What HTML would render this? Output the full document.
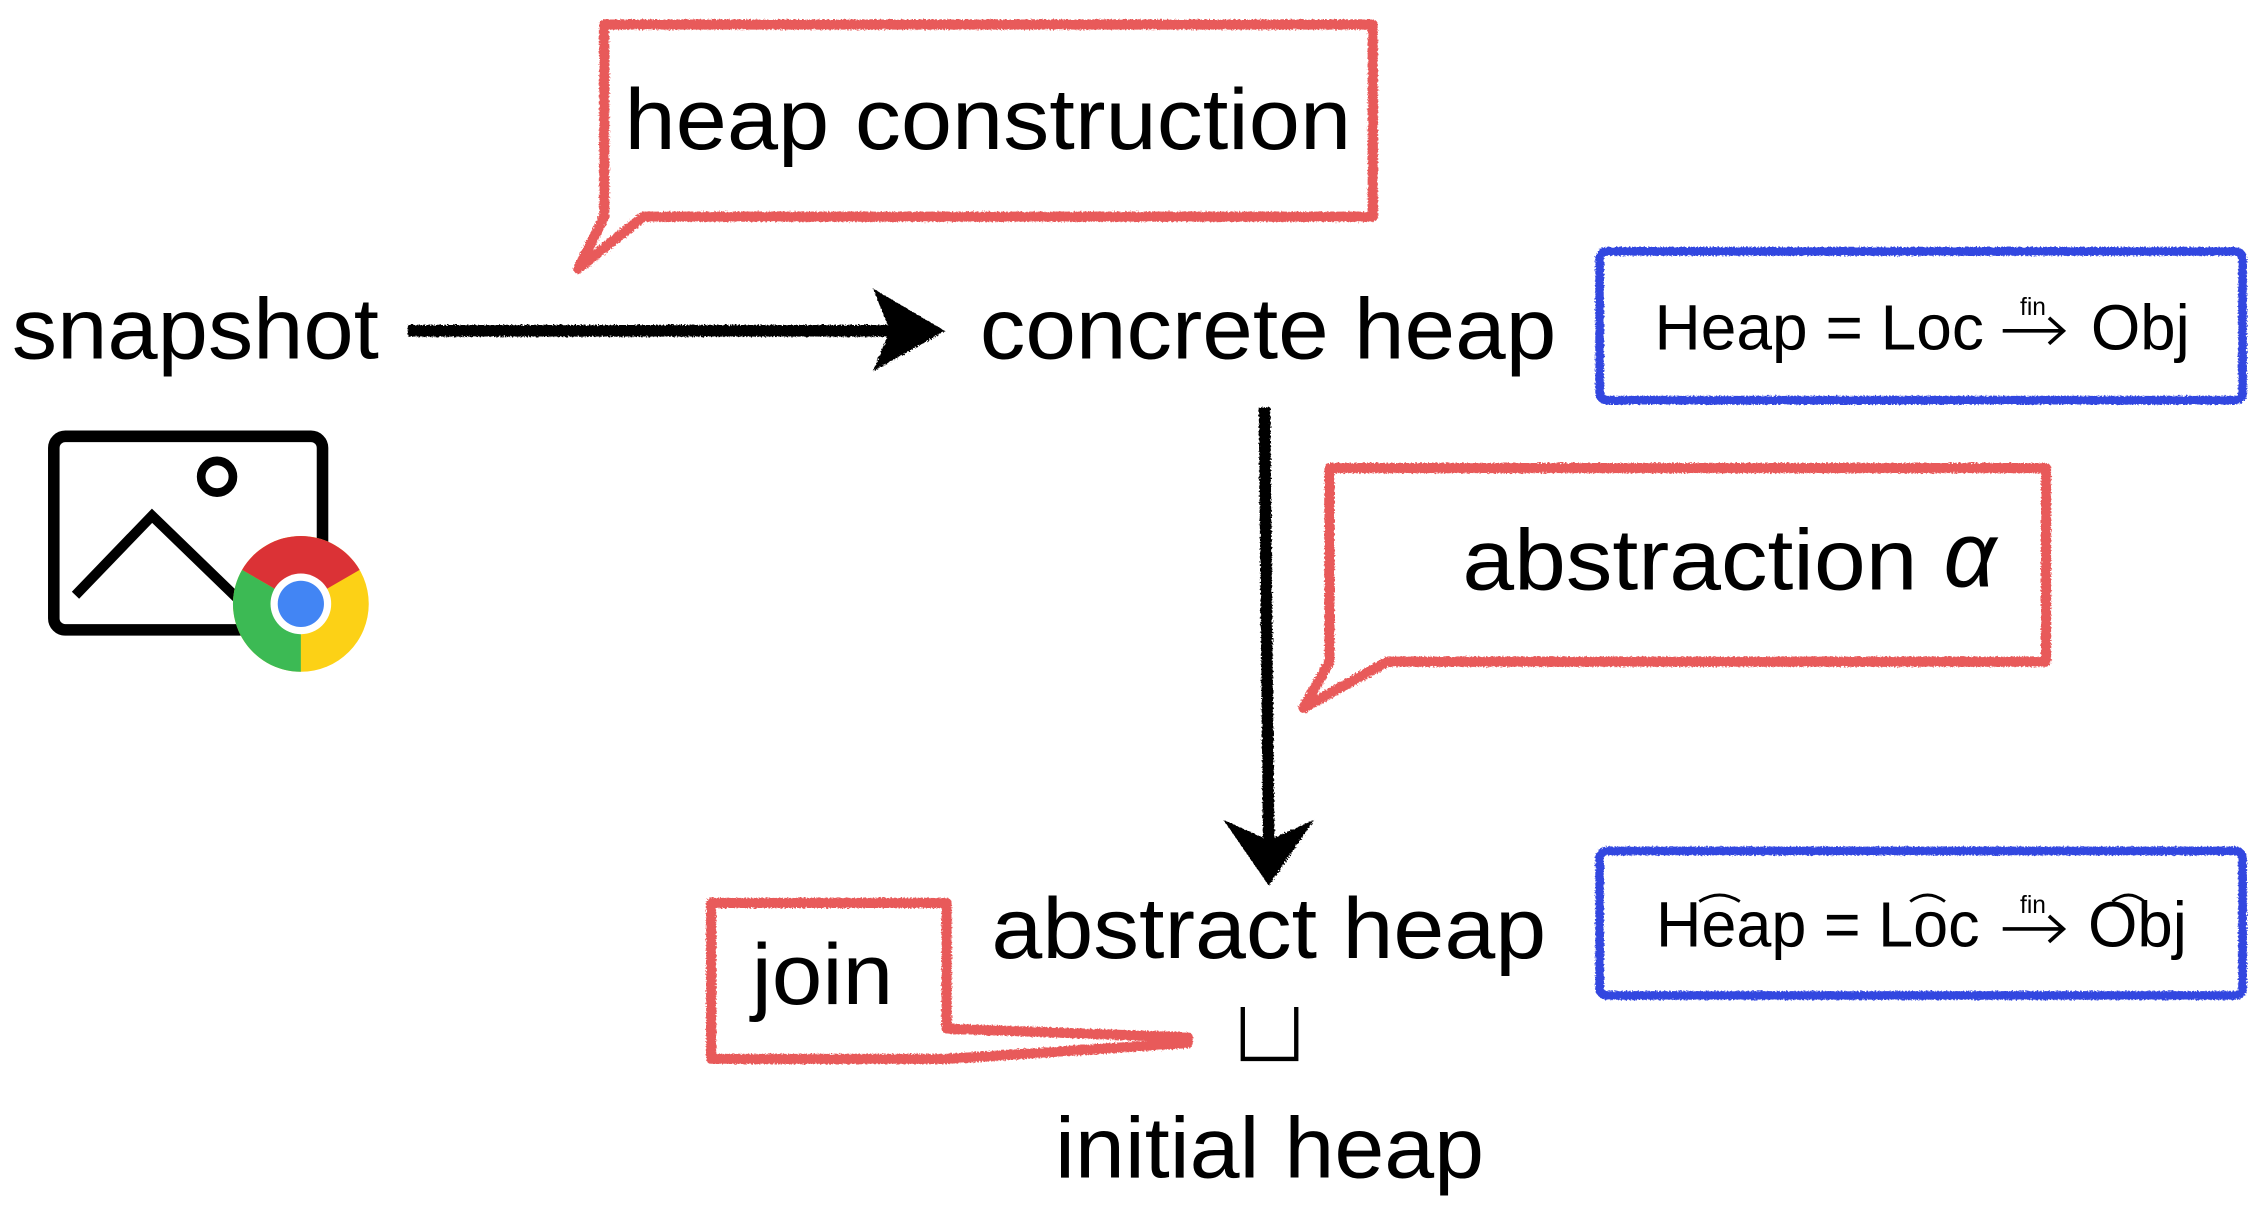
<!DOCTYPE html>
<html><head><meta charset="utf-8"><style>
html,body{margin:0;padding:0;background:#fff;}
svg{display:block;}
text{font-family:"Liberation Sans",sans-serif;fill:#000;}
</style></head><body>
<svg width="2266" height="1228" viewBox="0 0 1568 850" xmlns="http://www.w3.org/2000/svg">
<defs>
<filter id="rough"><feTurbulence type="fractalNoise" baseFrequency="0.9" numOctaves="1" seed="3"/><feDisplacementMap in="SourceGraphic" scale="3"/></filter>
</defs>
<g fill="none" stroke="#e85a5a" stroke-width="7" stroke-linejoin="round" filter="url(#rough)">
<path d="M418,17 L950,17 L950,150 L445,150 L400,186 L418,150 Z"/>
<path d="M920,324 L1416,324 L1416,458 L960,458 L902,490 L920,458 Z"/>
<path d="M492,625 L655,625 L655,712 L822,718 L822,722 L655,733 L492,733 Z"/>
</g>
<g fill="none" stroke="#3347e0" stroke-width="6" filter="url(#rough)">
<rect x="1107" y="174" width="445" height="103" rx="5"/>
<rect x="1107" y="589" width="445" height="100" rx="5"/>
</g>
<g stroke="#000" stroke-width="8" fill="#000" filter="url(#rough)">
<line x1="282" y1="229" x2="625" y2="229"/>
<path d="M612,209 L646,229 L612,248 L620,229 Z"/>
<line x1="875" y1="282" x2="878" y2="590"/>
<path d="M858,577 L878,606 L898,577 L878,586 Z"/>
</g>
<text x="432" y="103" font-size="60" textLength="503" lengthAdjust="spacingAndGlyphs">heap construction</text>
<text x="8" y="248" font-size="60" textLength="254" lengthAdjust="spacingAndGlyphs">snapshot</text>
<text x="678" y="248" font-size="60" textLength="399" lengthAdjust="spacingAndGlyphs">concrete heap</text>
<text x="1145" y="242" font-size="44" textLength="228" lengthAdjust="spacingAndGlyphs">Heap = Loc</text>
<text x="1398" y="218" font-size="17">fin</text>
<g fill="none" stroke="#000" stroke-width="2.5">
<path d="M1386,229 L1428,229 M1418,220 L1428,229 L1418,238"/>
<path d="M1386,643 L1428,643 M1418,634 L1428,643 L1418,652"/>
</g>
<text x="1447" y="242" font-size="44">Obj</text>
<text x="1012" y="408" font-size="60" textLength="315" lengthAdjust="spacingAndGlyphs">abstraction</text>
<text x="1345" y="406" font-size="64" font-style="italic" font-family="Liberation Serif,serif">α</text>
<text x="686" y="663" font-size="60" textLength="384" lengthAdjust="spacingAndGlyphs">abstract heap</text>
<text x="1146" y="655" font-size="44" textLength="224" lengthAdjust="spacingAndGlyphs">Heap = Loc</text>
<text x="1398" y="632" font-size="17">fin</text>
<text x="1445" y="655" font-size="44">Obj</text>
<g fill="none" stroke="#000" stroke-width="2">
<path d="M1176,624 q14,-9 28,0"/><path d="M1322,624 q12,-9 24,0"/><path d="M1462,624 q11,-9 22,0"/>
</g>
<text x="520" y="695" font-size="60" textLength="98" lengthAdjust="spacingAndGlyphs">join</text>
<path d="M860,697 L860,733 L897,733 L897,697" fill="none" stroke="#000" stroke-width="3"/>
<text x="730" y="815" font-size="60" textLength="297" lengthAdjust="spacingAndGlyphs">initial heap</text>
<rect x="37" y="302" width="186" height="134" rx="8" fill="none" stroke="#000" stroke-width="8"/>
<circle cx="150" cy="330" r="11" fill="none" stroke="#000" stroke-width="6"/>
<polyline points="52,412 105,357 168,418" fill="none" stroke="#000" stroke-width="7"/>
<g transform="translate(208,418)">
<circle r="47" fill="#fcd116"/>
<path d="M0,0 L-40.7,-23.5 A47,47 0 0 1 40.7,-23.5 Z" fill="#db3236"/>
<path d="M0,0 L-40.7,-23.5 A47,47 0 0 0 -0,47 Z" fill="#3cba54"/>
<circle r="21" fill="#fff"/>
<circle r="16" fill="#4285f4"/>
</g>
</svg>
</body></html>
